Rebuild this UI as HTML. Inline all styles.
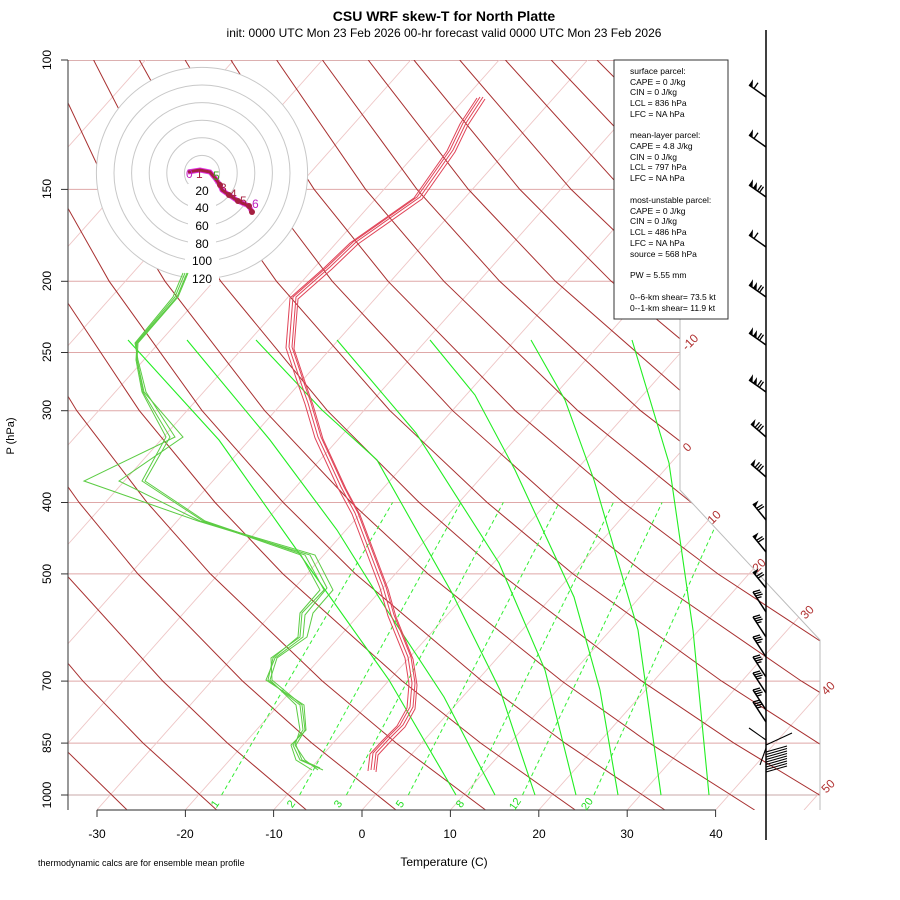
<!DOCTYPE html>
<html><head><meta charset="utf-8">
<style>
html,body{margin:0;padding:0;background:#fff;}
svg{display:block;font-family:"Liberation Sans",sans-serif;}
</style></head>
<body>
<svg width="900" height="900" viewBox="0 0 900 900" xmlns="http://www.w3.org/2000/svg">
<defs>
<clipPath id="cp"><polygon points="68,60 680,60 680,490 820,640 820,810 68,810"/></clipPath>
<g id="bA"><line x1="0" y1="0" x2="-17" y2="-12" stroke="#000" stroke-width="1.5"/><polygon points="-17,-12 -13.5,-9.6 -13,-17.7" fill="#000"/><line x1="-12" y1="-8.5" x2="-8" y2="-14.2" stroke="#000" stroke-width="1.3"/></g>
<g id="bB"><line x1="0" y1="0" x2="-17" y2="-12" stroke="#000" stroke-width="1.5"/><polygon points="-17,-12 -13.5,-9.6 -13,-17.7" fill="#000"/><polygon points="-13,-9.2 -9.5,-6.7 -9,-14.9" fill="#000"/><line x1="-8.5" y1="-6" x2="-4.5" y2="-11.7" stroke="#000" stroke-width="1.3"/><line x1="-6.5" y1="-4.6" x2="-2.5" y2="-10.3" stroke="#000" stroke-width="1.3"/></g>
<g id="bC"><line x1="0" y1="0" x2="-15" y2="-13" stroke="#000" stroke-width="1.5"/><polygon points="-15,-13 -12,-10.4 -10.5,-18" fill="#000"/><line x1="-11" y1="-9.5" x2="-6.5" y2="-14.7" stroke="#000" stroke-width="1.3"/><line x1="-9" y1="-7.8" x2="-4.5" y2="-13" stroke="#000" stroke-width="1.3"/><line x1="-7" y1="-6" x2="-2.5" y2="-11.2" stroke="#000" stroke-width="1.3"/></g>
<g id="bD"><line x1="0" y1="0" x2="-13" y2="-16" stroke="#000" stroke-width="1.5"/><polygon points="-13,-16 -10.5,-12.9 -7.5,-19.5" fill="#000"/><line x1="-9.5" y1="-11.7" x2="-3.5" y2="-15.5" stroke="#000" stroke-width="1.3"/><line x1="-8" y1="-9.8" x2="-2" y2="-13.6" stroke="#000" stroke-width="1.3"/></g>
<g id="bE"><line x1="0" y1="0" x2="-13" y2="-20" stroke="#000" stroke-width="1.5"/><line x1="-13" y1="-20" x2="-6" y2="-22" stroke="#000" stroke-width="1.3"/><line x1="-11.7" y1="-18" x2="-4.7" y2="-20" stroke="#000" stroke-width="1.3"/><line x1="-10.4" y1="-16" x2="-3.4" y2="-18" stroke="#000" stroke-width="1.3"/><line x1="-9.1" y1="-14" x2="-4.5" y2="-15.3" stroke="#000" stroke-width="1.3"/></g>
</defs>
<rect width="900" height="900" fill="#fff"/>
<g clip-path="url(#cp)" fill="none">
<!-- isobars -->
<g stroke="#dfa8a8" stroke-width="1">
<line x1="68" x2="820" y1="60" y2="60" stroke="#b86060"/>
<line x1="68" x2="820" y1="189.4" y2="189.4"/><line x1="68" x2="820" y1="281.3" y2="281.3"/>
<line x1="68" x2="820" y1="352.5" y2="352.5"/><line x1="68" x2="820" y1="410.7" y2="410.7"/>
<line x1="68" x2="820" y1="502.5" y2="502.5"/><line x1="68" x2="820" y1="573.9" y2="573.9"/>
<line x1="68" x2="820" y1="681.1" y2="681.1"/><line x1="68" x2="820" y1="743.1" y2="743.1"/>
<line x1="68" x2="820" y1="795" y2="795" stroke="#c9a9a9"/>
</g>
<!-- isotherms -->
<g stroke="#eec6c6" stroke-width="0.9">
<line x1="-522" y1="810" x2="145.5" y2="60"/><line x1="-433.6" y1="810" x2="233.9" y2="60"/>
<line x1="-345.2" y1="810" x2="322.3" y2="60"/><line x1="-256.8" y1="810" x2="410.7" y2="60"/>
<line x1="-168.4" y1="810" x2="499.1" y2="60"/><line x1="-80" y1="810" x2="587.5" y2="60"/>
<line x1="8.4" y1="810" x2="675.9" y2="60"/><line x1="96.8" y1="810" x2="764.3" y2="60"/>
<line x1="185.2" y1="810" x2="852.7" y2="60"/><line x1="273.6" y1="810" x2="941.1" y2="60"/>
<line x1="362" y1="810" x2="1029.5" y2="60"/><line x1="450.4" y1="810" x2="1117.9" y2="60"/>
<line x1="538.8" y1="810" x2="1206.3" y2="60"/><line x1="627.2" y1="810" x2="1294.7" y2="60"/>
<line x1="715.6" y1="810" x2="1383.1" y2="60"/><line x1="804" y1="810" x2="1471.5" y2="60"/>
</g>
<!-- dry adiabats -->
<g stroke="#a83030" stroke-width="1">
<polyline points="127.1,810 58.7,743.1 3.1,681.1 -79.6,573.9"/>
<polyline points="216.7,810 143.1,743.1 82.9,681.1 -7.1,573.9 -56.9,502.5"/>
<polyline points="306.4,810 227.5,743.1 162.8,681.1 65.4,573.9 11.1,502.5 -48.6,410.7"/>
<polyline points="396,810 311.9,743.1 242.6,681.1 137.9,573.9 79.1,502.5 14.1,410.7 -58.2,281.3"/>
<polyline points="485.6,810 396.3,743.1 322.4,681.1 210.4,573.9 147.1,502.5 76.8,410.7 -2.4,281.3 -45.4,189.4"/>
<polyline points="575.3,810 480.7,743.1 402.3,681.1 282.9,573.9 215.1,502.5 139.4,410.7 53.4,281.3 6,189.4 -43.7,60"/>
<polyline points="664.9,810 565.1,743.1 482.1,681.1 355.4,573.9 283.2,502.5 202.1,410.7 109.2,281.3 57.3,189.4 2.1,60"/>
<polyline points="754.6,810 649.5,743.1 561.9,681.1 427.9,573.9 351.2,502.5 264.7,410.7 165,281.3 108.7,189.4 47.8,60"/>
<polyline points="844.2,810 733.9,743.1 641.8,681.1 500.4,573.9 419.2,502.5 327.4,410.7 220.8,281.3 160.1,189.4 93.6,60"/>
<polyline points="933.8,810 818.2,743.1 721.6,681.1 572.9,573.9 487.2,502.5 390,410.7 276.5,281.3 211.5,189.4 139.4,60"/>
<polyline points="1023.5,810 902.6,743.1 801.4,681.1 645.4,573.9 555.2,502.5 452.7,410.7 332.3,281.3 262.9,189.4 185.1,60"/>
<polyline points="1113.1,810 987,743.1 881.2,681.1 717.9,573.9 623.3,502.5 515.3,410.7 388.1,281.3 314.2,189.4 230.9,60"/>
<polyline points="1202.8,810 1071.4,743.1 961.1,681.1 790.4,573.9 691.3,502.5 577.9,410.7 443.9,281.3 365.6,189.4 276.6,60"/>
<polyline points="1292.4,810 1155.8,743.1 1040.9,681.1 862.9,573.9 759.3,502.5 640.6,410.7 499.7,281.3 417,189.4 322.4,60"/>
<polyline points="1382,810 1240.2,743.1 1120.7,681.1 935.4,573.9 827.3,502.5 703.2,410.7 555.5,281.3 468.4,189.4 368.2,60"/>
<polyline points="1471.7,810 1324.6,743.1 1200.6,681.1 1007.9,573.9 895.3,502.5 765.9,410.7 611.3,281.3 519.8,189.4 413.9,60"/>
<polyline points="1561.3,810 1409,743.1 1280.4,681.1 1080.4,573.9 963.4,502.5 828.5,410.7 667.1,281.3 571.1,189.4 459.7,60"/>
<polyline points="1651,810 1493.4,743.1 1360.2,681.1 1152.9,573.9 1031.4,502.5 891.2,410.7 722.9,281.3 622.5,189.4 505.4,60"/>
<polyline points="1740.6,810 1577.8,743.1 1440.1,681.1 1225.4,573.9 1099.4,502.5 953.9,410.7 778.7,281.3 673.9,189.4 551.2,60"/>
<polyline points="1830.2,810 1662.1,743.1 1519.9,681.1 1297.9,573.9 1167.4,502.5 1016.5,410.7 834.4,281.3 725.3,189.4 597,60"/>
<polyline points="1919.9,810 1746.5,743.1 1599.7,681.1 1370.4,573.9 1235.4,502.5 1079.2,410.7 890.2,281.3 776.7,189.4 642.7,60"/>
</g>
<!-- mixing ratio -->
<g stroke="#33ee33" stroke-width="1" stroke-dasharray="4,3">
<line x1="221.6" y1="795" x2="392.6" y2="502.5"/><line x1="299.6" y1="795" x2="460.9" y2="502.5"/>
<line x1="346.4" y1="795" x2="503.3" y2="502.5"/><line x1="408.3" y1="795" x2="559.3" y2="502.5"/>
<line x1="468.3" y1="795" x2="613.4" y2="502.5"/><line x1="522.5" y1="795" x2="662.1" y2="502.5"/>
<line x1="593.9" y1="795" x2="726.1" y2="502.5"/>
</g>
<!-- moist adiabats -->
<g stroke="#22ee22" stroke-width="1.1">
<polyline points="128,340 219,440 306,563 389,680 456,795"/>
<polyline points="187,340 270,440 337,530 385,607 444,697 495,795"/>
<polyline points="256,340 322,410 377,460 452,593 500,690 535,795"/>
<polyline points="337,340 416,433 499,563 545,670 576,795"/>
<polyline points="430,340 475,395 515,470 574,597 600,690 618,795"/>
<polyline points="531,340 565,400 594,480 638,630 661,795"/>
<polyline points="632,340 669,463 693,630 709,795"/>
</g>
</g>
<polyline points="680,60 680,490 820,640 820,810" fill="none" stroke="#bbb" stroke-width="1"/>
<!-- hodograph -->
<g fill="none" stroke="#c8c8c8" stroke-width="1">
<circle cx="202" cy="173" r="105.6" fill="#fff"/>
<circle cx="202" cy="173" r="88"/><circle cx="202" cy="173" r="70.4"/>
<circle cx="202" cy="173" r="52.8"/><circle cx="202" cy="173" r="35.2"/><circle cx="202" cy="173" r="17.6"/>
</g>
<g fill="#fff">
<rect x="188" y="184" width="28" height="13"/><rect x="188" y="201" width="28" height="13"/>
<rect x="188" y="219" width="28" height="13"/><rect x="188" y="237" width="28" height="13"/>
<rect x="185" y="254" width="34" height="13"/><rect x="185" y="272" width="34" height="13"/>
</g>
<g font-size="12" fill="#000" text-anchor="middle">
<text x="202" y="195">20</text><text x="202" y="212">40</text><text x="202" y="230">60</text>
<text x="202" y="248">80</text><text x="202" y="265">100</text><text x="202" y="283">120</text>
</g>
<polyline points="188,172 200,170 210,172 215,178 220,185 222,190 229,195 238,201 249,206 252,212" fill="none" stroke="#e030e0" stroke-width="5"/>
<polyline points="188,172 200,170 210,172 215,178 220,185 222,190 229,195 238,201 249,206 252,212" fill="none" stroke="#a52040" stroke-width="3"/>
<g fill="#a52040"><circle cx="220" cy="185" r="3"/><circle cx="229" cy="195" r="3"/><circle cx="238" cy="201" r="3"/><circle cx="249" cy="206" r="3"/><circle cx="252" cy="212" r="3"/></g>
<g font-size="12" fill="#a52040">
<text x="186" y="178" fill="#c020c0">0</text><text x="196" y="178">1</text><text x="213" y="180" fill="#40a020">5</text>
<text x="220" y="192">3</text><text x="230" y="198">4</text><text x="240" y="205">5</text><text x="252" y="208" fill="#c020c0">6</text>
</g>
<!-- temperature -->
<g fill="none" stroke="#e04458" stroke-width="1">
<polyline id="tp" points="480,97 463,123 450,150 417,197 353,242 327,267 293,297 289,347 301,383 308,403 318,437 341,487 355,513 383,587 391,615 408,657 412,683 410,707 400,725 385,740 373,753 371,770"/>
<use href="#tp" transform="translate(3,0)"/><use href="#tp" transform="translate(-3,1)"/><use href="#tp" transform="translate(5,2)"/>
</g>
<!-- dewpoint -->
<g fill="none" stroke="#5ccc44" stroke-width="1">
<polyline points="187,273 177,297 137,343 136,360 142,392 166,437 142,481 203,521 301,555 320,590 300,613 298,637 273,658 268,680 300,705 303,730 293,745 300,760 323,770"/>
<polyline points="185,273 175,297 136,343 137,360 144,392 183,437 119,481 200,521 315,555 333,590 313,613 307,637 277,658 270,680 296,705 300,730 295,745 305,760 318,770"/>
<polyline points="183,273 173,297 135,343 138,360 146,392 175,437 84,481 198,521 310,555 327,588 305,615 303,637 275,658 266,680 304,705 306,730 291,745 296,760 312,770"/>
<polyline points="188,273 178,297 138,343 137,360 143,392 170,437 145,481 205,521 305,555 324,590 302,613 300,637 271,658 272,680 302,705 305,730 296,745 302,760 320,768"/>
</g>
<!-- axes -->
<line x1="68" y1="60" x2="68" y2="810" stroke="#555" stroke-width="1.2"/>
<line x1="97" y1="810" x2="716" y2="810" stroke="#555" stroke-width="1.2"/>
<g stroke="#333" stroke-width="1">
<line x1="97" x2="97" y1="810" y2="817"/><line x1="185.4" x2="185.4" y1="810" y2="817"/><line x1="273.6" x2="273.6" y1="810" y2="817"/>
<line x1="362" x2="362" y1="810" y2="817"/><line x1="450.4" x2="450.4" y1="810" y2="817"/><line x1="538.8" x2="538.8" y1="810" y2="817"/>
<line x1="627.2" x2="627.2" y1="810" y2="817"/><line x1="715.6" x2="715.6" y1="810" y2="817"/>
<line x1="61" x2="68" y1="60" y2="60"/><line x1="61" x2="68" y1="189.4" y2="189.4"/><line x1="61" x2="68" y1="281.3" y2="281.3"/>
<line x1="61" x2="68" y1="352.5" y2="352.5"/><line x1="61" x2="68" y1="410.7" y2="410.7"/><line x1="61" x2="68" y1="502.5" y2="502.5"/>
<line x1="61" x2="68" y1="573.9" y2="573.9"/><line x1="61" x2="68" y1="681.1" y2="681.1"/><line x1="61" x2="68" y1="743.1" y2="743.1"/>
<line x1="61" x2="68" y1="795" y2="795"/>
</g>
<g font-size="12" fill="#000" text-anchor="middle">
<text x="97" y="838">-30</text><text x="185" y="838">-20</text><text x="274" y="838">-10</text>
<text x="362" y="838">0</text><text x="450" y="838">10</text><text x="539" y="838">20</text>
<text x="627" y="838">30</text><text x="716" y="838">40</text>
<text transform="translate(51,60) rotate(-90)">100</text>
<text transform="translate(51,189) rotate(-90)">150</text>
<text transform="translate(51,281) rotate(-90)">200</text>
<text transform="translate(51,352) rotate(-90)">250</text>
<text transform="translate(51,410) rotate(-90)">300</text>
<text transform="translate(51,502) rotate(-90)">400</text>
<text transform="translate(51,574) rotate(-90)">500</text>
<text transform="translate(51,681) rotate(-90)">700</text>
<text transform="translate(51,743) rotate(-90)">850</text>
<text transform="translate(51,795) rotate(-90)">1000</text>
<text transform="translate(14,436) rotate(-90)" font-size="11">P (hPa)</text>
<text x="444" y="866" font-size="12">Temperature (C)</text>
<text x="444" y="21" font-size="14" font-weight="bold">CSU WRF skew-T for North Platte</text>
<text x="444" y="37" font-size="12">init: 0000 UTC Mon 23 Feb 2026     00-hr forecast valid 0000 UTC Mon 23 Feb 2026</text>
</g>
<text x="38" y="866" font-size="9">thermodynamic calcs are for ensemble mean profile</text>
<g font-size="12" fill="#b03030" text-anchor="middle">
<text transform="translate(693,345) rotate(-45)">-10</text>
<text transform="translate(690,450) rotate(-45)">0</text>
<text transform="translate(717,520) rotate(-45)">10</text>
<text transform="translate(762,568) rotate(-45)">20</text>
<text transform="translate(810,615) rotate(-45)">30</text>
<text transform="translate(831,691) rotate(-45)">40</text>
<text transform="translate(831,789) rotate(-45)">50</text>
</g>
<g font-size="11" fill="#22dd22" text-anchor="middle">
<text transform="translate(218,806) rotate(-55)">1</text>
<text transform="translate(294,806) rotate(-55)">2</text>
<text transform="translate(341,806) rotate(-55)">3</text>
<text transform="translate(403,806) rotate(-55)">5</text>
<text transform="translate(463,806) rotate(-55)">8</text>
<text transform="translate(518,806) rotate(-55)">12</text>
<text transform="translate(590,806) rotate(-55)">20</text>
</g>
<!-- info box -->
<rect x="614" y="60" width="114" height="259" fill="#fff" stroke="#333" stroke-width="1"/>
<g font-size="8.5" fill="#000">
<text x="630" y="74">surface parcel:</text>
<text x="630" y="85">CAPE = 0 J/kg</text>
<text x="630" y="95">CIN = 0 J/kg</text>
<text x="630" y="106">LCL = 836 hPa</text>
<text x="630" y="117">LFC = NA hPa</text>
<text x="630" y="138">mean-layer parcel:</text>
<text x="630" y="149">CAPE = 4.8 J/kg</text>
<text x="630" y="160">CIN = 0 J/kg</text>
<text x="630" y="170">LCL = 797 hPa</text>
<text x="630" y="181">LFC = NA hPa</text>
<text x="630" y="203">most-unstable parcel:</text>
<text x="630" y="214">CAPE = 0 J/kg</text>
<text x="630" y="224">CIN = 0 J/kg</text>
<text x="630" y="235">LCL = 486 hPa</text>
<text x="630" y="246">LFC = NA hPa</text>
<text x="630" y="257">source = 568 hPa</text>
<text x="630" y="278">PW =  5.55 mm</text>
<text x="630" y="300">0--6-km shear= 73.5 kt</text>
<text x="630" y="311">0--1-km shear= 11.9 kt</text>
</g>
<line x1="766" y1="30" x2="766" y2="840" stroke="#000" stroke-width="1.5"/>
<!-- wind barbs -->
<use href="#bA" x="766" y="97"/>
<use href="#bA" x="766" y="147"/>
<use href="#bB" x="766" y="197"/>
<use href="#bA" x="766" y="247"/>
<use href="#bB" x="766" y="297"/>
<use href="#bB" x="766" y="345"/>
<use href="#bB" x="766" y="392"/>
<use href="#bC" x="766" y="437"/>
<use href="#bC" x="766" y="477"/>
<use href="#bD" x="766" y="520"/>
<use href="#bD" x="766" y="552"/>
<use href="#bD" x="766" y="588"/>
<use href="#bE" x="766" y="612"/>
<use href="#bE" x="766" y="637"/>
<use href="#bE" x="766" y="657"/>
<use href="#bE" x="766" y="677"/>
<use href="#bE" x="766" y="693"/>
<use href="#bE" x="766" y="710"/>
<use href="#bE" x="766" y="722"/>
<g stroke="#000" stroke-width="1.1">
<line x1="766" y1="740" x2="749" y2="728"/><line x1="766" y1="745" x2="792" y2="733"/>
<line x1="766" y1="748" x2="760" y2="765"/>
<line x1="766" y1="752" x2="787" y2="746"/><line x1="766" y1="754.5" x2="787" y2="748.5"/>
<line x1="766" y1="757" x2="787" y2="751"/><line x1="766" y1="759.5" x2="787" y2="753.5"/>
<line x1="766" y1="762" x2="787" y2="756"/><line x1="766" y1="764.5" x2="787" y2="758.5"/>
<line x1="766" y1="767" x2="787" y2="761"/><line x1="766" y1="769.5" x2="787" y2="763.5"/>
<line x1="766" y1="772" x2="787" y2="766"/>
</g>
</svg>
</body></html>
